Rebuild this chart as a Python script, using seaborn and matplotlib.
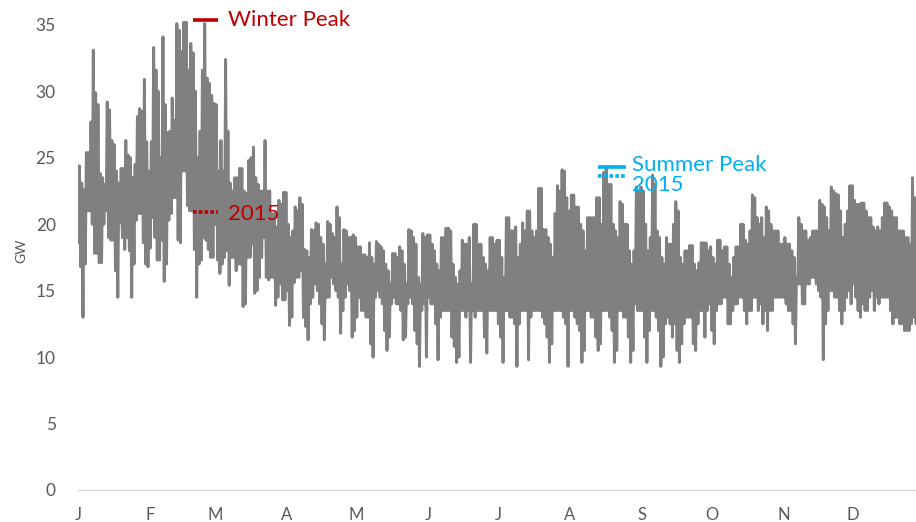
import numpy as np
import pandas as pd
import matplotlib.pyplot as plt
import seaborn as sns

# daily peak / daily low load in GW (2015, hourly data)
jan_hi = [24.4, 23.1, 22.6, 25.4, 25.4, 27.7, 33.1, 29.9, 29.0, 23.8, 23.5, 23.0, 29.2, 28.6, 26.3, 26.0,
          24.0, 23.1, 24.2, 24.2, 26.3, 25.2, 25.0, 23.5, 24.5, 28.1, 28.7, 28.5, 30.9, 26.2, 24.0]
jan_lo = [18.6, 16.8, 13.0, 17.0, 21.0, 21.0, 20.0, 17.8, 17.8, 17.1, 17.1, 20.0, 21.0, 19.0, 18.8, 18.8,
          16.5, 14.5, 20.1, 19.0, 18.1, 19.0, 18.0, 14.5, 17.0, 20.3, 20.8, 20.8, 18.6, 17.0, 16.8]
feb_hi = [26.2, 33.3, 31.6, 30.0, 25.0, 34.1, 29.0, 26.9, 27.0, 29.5, 27.8, 35.1, 34.6, 33.0, 35.2, 35.2,
          31.6, 33.6, 32.9, 30.0, 25.0, 27.0, 31.6, 35.1, 31.0, 30.6, 29.7, 29.1]
feb_lo = [18.2, 20.5, 19.0, 17.3, 17.3, 18.8, 15.7, 17.0, 20.3, 20.8, 22.0, 22.0, 18.8, 18.6, 24.0, 24.0,
          21.4, 21.0, 21.0, 18.1, 14.5, 17.0, 17.3, 19.0, 18.8, 18.1, 17.5, 17.5]
mar_hi = [29.0, 24.0, 26.3, 24.0, 32.4, 27.0, 23.1, 22.5, 23.5, 23.5, 24.2, 24.2, 22.5, 22.3, 24.8, 25.0,
          25.8, 23.5, 23.0, 22.5, 22.5, 26.3, 22.5, 22.5, 20.8, 20.8, 19.8, 21.8, 21.5, 22.4, 22.4]
mar_lo = [20.0, 17.3, 16.3, 17.0, 17.5, 18.0, 15.4, 17.5, 17.5, 16.5, 17.0, 17.0, 13.8, 14.0, 17.5, 17.5,
          18.5, 14.8, 15.0, 16.0, 17.5, 19.0, 16.0, 15.8, 16.0, 16.0, 13.9, 14.5, 15.5, 14.3, 14.3]
apr_hi = [20.0, 19.0, 19.5, 21.3, 21.0, 22.0, 21.5, 18.1, 18.0, 17.5, 19.6, 19.5, 20.1, 20.0, 19.0,
          18.5, 17.0, 20.2, 20.0, 19.3, 19.0, 21.3, 20.5, 17.0, 19.6, 19.5, 19.0, 19.0, 19.2, 19.0]
apr_lo = [15.0, 12.4, 13.0, 15.6, 16.0, 16.0, 16.5, 13.0, 12.3, 11.3, 14.0, 14.5, 15.5, 15.0, 14.0,
          12.5, 11.3, 14.5, 14.5, 16.0, 15.5, 15.0, 14.5, 11.8, 13.5, 14.5, 15.5, 15.0, 11.5, 12.0]
may_hi = [18.3, 18.3, 17.7, 17.7, 17.5, 18.6, 17.5, 17.0, 18.7, 18.5, 18.3, 18.0, 17.0, 16.5, 15.5, 17.8,
          17.8, 17.5, 18.3, 18.0, 17.0, 15.5, 19.6, 19.5, 19.0, 18.5, 16.0, 15.5, 19.3, 19.0, 19.2]
may_lo = [13.0, 14.5, 13.5, 13.5, 13.0, 13.0, 11.0, 10.0, 14.5, 15.0, 14.5, 14.0, 12.0, 10.5, 11.5, 14.0,
          14.5, 14.0, 14.0, 13.5, 11.3, 11.5, 14.0, 14.5, 14.0, 12.0, 11.0, 9.3, 13.5, 14.0, 10.0]
jun_hi = [19.2, 18.5, 18.0, 17.0, 16.5, 19.0, 19.0, 19.7, 19.7, 19.5, 17.0, 16.0, 15.5, 16.5, 18.8,
          18.5, 18.5, 19.0, 15.5, 20.0, 20.0, 18.5, 18.5, 17.5, 17.0, 16.5, 19.0, 19.0, 18.5, 18.8]
jun_lo = [14.5, 14.0, 14.0, 12.5, 9.8, 13.0, 13.5, 13.5, 13.5, 13.5, 11.5, 10.8, 9.6, 10.0, 13.5,
          13.5, 13.0, 13.5, 9.6, 13.5, 13.0, 13.5, 13.5, 13.5, 11.5, 10.3, 13.5, 13.5, 13.5, 13.5]
jul_hi = [18.8, 17.5, 16.0, 20.5, 20.5, 19.5, 19.5, 19.8, 17.5, 18.5, 20.1, 19.5, 21.0, 21.0, 19.5, 19.0,
          19.5, 22.7, 22.7, 19.6, 19.6, 19.0, 18.5, 17.5, 20.8, 22.9, 22.5, 24.1, 24.0, 22.0, 21.0]
jul_lo = [12.5, 11.5, 9.6, 13.5, 13.5, 13.0, 13.0, 12.5, 9.3, 12.5, 13.5, 13.5, 13.5, 9.8, 13.0, 13.5,
          13.5, 13.5, 13.5, 13.0, 12.5, 11.5, 9.6, 11.0, 13.5, 13.5, 13.5, 13.5, 13.0, 12.5, 9.3]
aug_hi = [22.2, 22.2, 21.3, 21.3, 20.0, 19.5, 18.0, 20.5, 20.5, 20.5, 20.5, 22.0, 22.0, 20.0, 23.9, 24.2,
          23.0, 23.0, 20.0, 19.5, 19.0, 21.7, 21.5, 20.0, 20.0, 18.0, 17.0, 18.0, 22.8, 22.5, 22.8]
aug_lo = [13.5, 13.5, 13.0, 12.5, 12.0, 9.6, 10.5, 13.5, 13.5, 13.0, 13.0, 11.5, 10.5, 11.0, 13.5, 13.5,
          13.5, 13.0, 12.0, 9.6, 10.5, 13.5, 13.5, 13.0, 13.0, 11.5, 9.6, 10.5, 14.0, 13.5, 13.5]
sep_hi = [22.5, 20.0, 18.0, 19.0, 23.7, 23.0, 19.5, 19.0, 17.5, 17.0, 19.0, 18.5, 18.5, 20.0, 21.7,
          21.0, 17.5, 17.0, 18.0, 18.0, 18.4, 18.4, 17.0, 16.5, 17.1, 18.6, 18.6, 18.6, 18.0, 18.3]
sep_lo = [13.5, 11.5, 9.6, 12.0, 13.5, 13.5, 13.0, 12.0, 9.3, 10.0, 12.5, 13.0, 12.5, 11.5, 12.5,
          10.5, 9.6, 11.0, 12.5, 13.0, 13.0, 13.0, 11.0, 10.5, 12.5, 13.5, 13.5, 11.5, 13.5, 14.0]
oct_hi = [17.5, 17.0, 18.8, 18.8, 18.0, 18.3, 18.3, 17.0, 16.0, 17.5, 18.3, 18.3, 20.0, 20.0, 18.8, 18.5,
          19.5, 22.2, 22.0, 20.5, 20.0, 20.5, 19.0, 21.3, 21.0, 20.0, 19.5, 19.5, 19.5, 18.5, 18.5]
oct_lo = [12.0, 11.0, 13.5, 14.0, 14.0, 14.5, 14.5, 12.5, 12.5, 13.5, 14.0, 14.0, 14.5, 14.5, 13.5, 12.5,
          13.5, 13.5, 14.5, 14.5, 13.5, 14.0, 12.5, 13.5, 12.0, 13.5, 13.5, 14.5, 14.5, 14.5, 14.5]
nov_hi = [19.0, 18.5, 18.5, 18.0, 17.5, 16.0, 20.5, 20.0, 19.5, 19.5, 18.8, 19.0, 19.5, 19.5, 19.5,
          21.8, 21.5, 21.3, 20.5, 19.5, 22.8, 22.5, 22.3, 22.2, 21.0, 19.0, 20.0, 21.0, 22.9, 22.9]
nov_lo = [14.5, 14.0, 13.5, 13.5, 12.5, 11.0, 15.5, 15.5, 14.0, 14.0, 15.5, 15.5, 16.0, 16.0, 15.5,
          15.0, 14.5, 9.8, 12.5, 13.5, 15.0, 15.0, 14.5, 14.5, 13.5, 12.5, 13.5, 14.5, 15.0, 14.0]
dec_hi = [21.8, 21.5, 21.5, 21.6, 21.6, 21.0, 20.5, 20.5, 19.8, 19.5, 19.8, 19.5, 20.5, 21.6,
          21.6, 21.3, 21.0, 20.5, 20.5, 19.5, 19.5, 19.5, 19.0, 19.0, 18.5, 23.5, 22.0, 21.0]
dec_lo = [15.5, 14.5, 13.5, 13.0, 14.0, 13.5, 13.5, 14.5, 15.0, 13.5, 14.5, 14.0, 14.5, 14.5,
          14.5, 14.5, 13.5, 12.5, 13.0, 13.0, 12.5, 12.5, 12.0, 12.0, 12.0, 12.5, 13.0, 12.5]

month_starts = [0, 31, 59, 90, 120, 151, 181, 212, 243, 273, 304, 334]
month_labels = ["J", "F", "M", "A", "M", "J", "J", "A", "S", "O", "N", "D"]

# reference marks (GW)
winter_peak = 35.4
winter_2015 = 20.9
summer_peak = 24.3
summer_2015 = 23.6
winter_span = (49.5, 60.3)
summer_span = (224.2, 236.3)

daily_hi = jan_hi + feb_hi + mar_hi + apr_hi + may_hi + jun_hi + jul_hi + aug_hi + sep_hi + oct_hi + nov_hi + dec_hi
daily_lo = jan_lo + feb_lo + mar_lo + apr_lo + may_lo + jun_lo + jul_lo + aug_lo + sep_lo + oct_lo + nov_lo + dec_lo
n = min(len(daily_hi), len(daily_lo))

rows = []
for d in range(n):
    rows.append((d + 0.15, daily_lo[d]))
    rows.append((d + 0.6, daily_hi[d]))
df = pd.DataFrame(rows, columns=["day", "GW"])

sns.set_style("white")
plt.rcParams["font.family"] = ["Lato", "DejaVu Sans"]

fig = plt.figure(figsize=(9.16, 5.22), dpi=100)
ax = fig.add_axes([78 / 916, 32 / 522, 838 / 916, 478.4 / 522])

sns.lineplot(data=df, x="day", y="GW", sort=False, estimator=None,
             color="#808080", linewidth=2.1, ax=ax)

red = "#c00000"
blue = "#00b0f0"
ax.plot(winter_span, [winter_peak] * 2, color=red, lw=2.6, solid_capstyle="butt", clip_on=False)
ax.plot(winter_span, [winter_2015] * 2, color=red, lw=2.6, ls=(0, (1, 0.6)), clip_on=False)
ax.plot(summer_span, [summer_peak] * 2, color=blue, lw=2.6, solid_capstyle="butt", clip_on=False)
ax.plot(summer_span, [summer_2015] * 2, color=blue, lw=2.6, ls=(0, (1, 0.6)), clip_on=False)
ax.text(winter_span[1] + 4.5, winter_peak, "Winter Peak", color=red, fontsize=16, va="center")
ax.text(winter_span[1] + 4.5, winter_2015 - 0.1, "2015", color=red, fontsize=16, va="center")
ax.text(summer_span[1] + 2.5, summer_peak + 0.15, "Summer Peak", color=blue, fontsize=16, va="center")
ax.text(summer_span[1] + 2.5, summer_2015 - 0.65, "2015", color=blue, fontsize=16, va="center")

ax.set_xlim(0, 361.1)
ax.set_ylim(0, 36)
ax.set_yticks(range(0, 36, 5))
ax.set_xticks(month_starts)
ax.set_xticklabels(month_labels)
ax.tick_params(axis="y", length=0, pad=16, labelsize=12.5, labelcolor="#595959")
ax.tick_params(axis="x", length=4, width=1, color="#d9d9d9", pad=8, labelsize=12, labelcolor="#595959")
ax.set_xlabel("")
ax.set_ylabel("GW", fontsize=10, color="#595959", labelpad=6)
ax.grid(False)
for s in ["top", "right", "left"]:
    ax.spines[s].set_visible(False)
ax.spines["bottom"].set_color("#d9d9d9")
ax.spines["bottom"].set_linewidth(1)

fig.savefig("out.png", dpi=100)
